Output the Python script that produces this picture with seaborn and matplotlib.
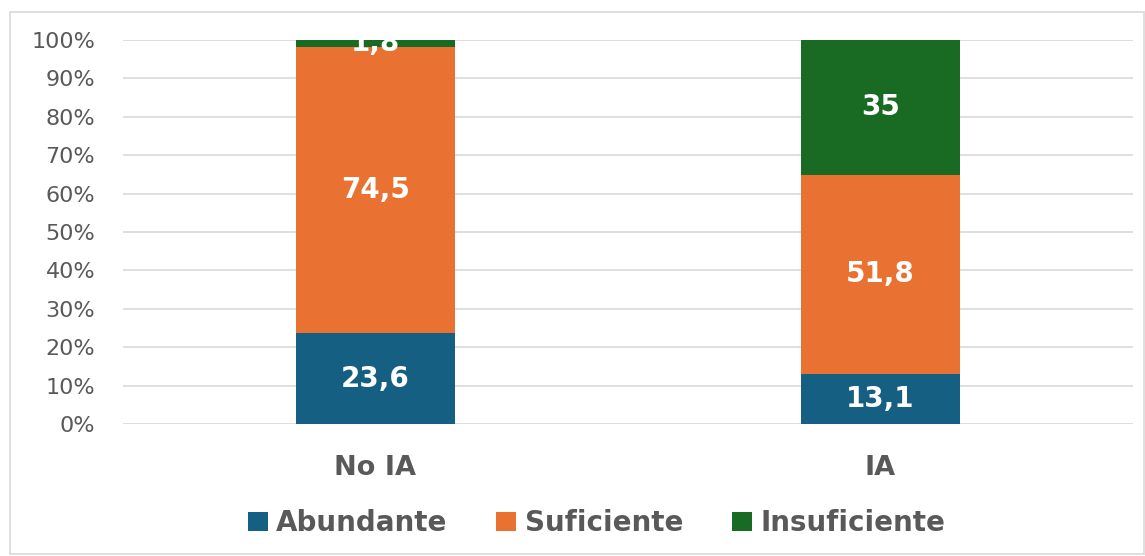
import seaborn as sns
import pandas as pd
import matplotlib.pyplot as plt
from matplotlib.patches import Patch, Rectangle
from matplotlib.ticker import PercentFormatter

# data
groups = ["No IA", "IA"]
levels = ["Abundante", "Suficiente", "Insuficiente"]
abundante = [23.6, 13.1]
suficiente = [74.5, 51.8]
insuficiente = [1.8, 35]
colors = ["#156082", "#E97132", "#196B24"]

TXT = "#595959"

sns.set_theme(style="white")
plt.rcParams["font.family"] = ["DejaVu Sans"]

# build 100% stacked table
df = pd.DataFrame({"grupo": groups, "Abundante": abundante,
                   "Suficiente": suficiente, "Insuficiente": insuficiente})
total = df[levels].sum(axis=1)
pct = df[levels].div(total, axis=0) * 100
cum = pct.cumsum(axis=1)
cum["grupo"] = groups

fig = plt.figure(figsize=(11.45, 5.56), dpi=100)
ax = fig.add_axes([0.1074, 0.2374, 0.8821, 0.6906])

# draw from the top layer down so lower layers cover it
for lvl, col in reversed(list(zip(levels, colors))):
    sns.barplot(data=cum, x="grupo", y=lvl, order=groups, color=col,
                saturation=1, width=0.315, linewidth=0, ax=ax, zorder=3)

# segment labels
for i, g in enumerate(groups):
    bottom = 0
    for lvl in levels:
        h = pct.loc[i, lvl]
        val = df.loc[i, lvl]
        s = f"{val:g}".replace(".", ",")
        ax.text(i, bottom + h / 2, s, ha="center", va="center", color="white",
                fontsize=20, fontweight="bold", zorder=5)
        bottom += h

ax.set_ylim(0, 100)
ax.set_yticks(range(0, 101, 10))
ax.yaxis.set_major_formatter(PercentFormatter(decimals=0))
ax.set_xlim(-0.5, 1.5)
ax.grid(axis="y", color="#D9D9D9", linewidth=1.2, zorder=0)
ax.set_axisbelow(True)
for sp in ax.spines.values():
    sp.set_visible(False)
ax.set_xlabel("")
ax.set_ylabel("")
ax.tick_params(axis="y", length=0, labelsize=16, labelcolor=TXT, pad=20)
ax.tick_params(axis="x", length=0, labelsize=19.5, labelcolor=TXT, pad=22)
for t in ax.get_xticklabels():
    t.set_fontweight("bold")

handles = [Patch(facecolor=c, edgecolor="none", label=l) for l, c in zip(levels, colors)]
leg = fig.legend(handles=handles, loc="center", bbox_to_anchor=(0.521, 0.059), ncol=3,
                 frameon=False, handlelength=0.72, handleheight=0.72, handletextpad=0.3,
                 columnspacing=1.76, prop={"size": 20, "weight": "bold"})
for t in leg.get_texts():
    t.set_color(TXT)

# chart area border
fig.patches.append(Rectangle((0.009, 0.004), 0.99, 0.975, transform=fig.transFigure,
                             fill=False, edgecolor="#D9D9D9", linewidth=1.2))

fig.savefig("out.png", dpi=100)
